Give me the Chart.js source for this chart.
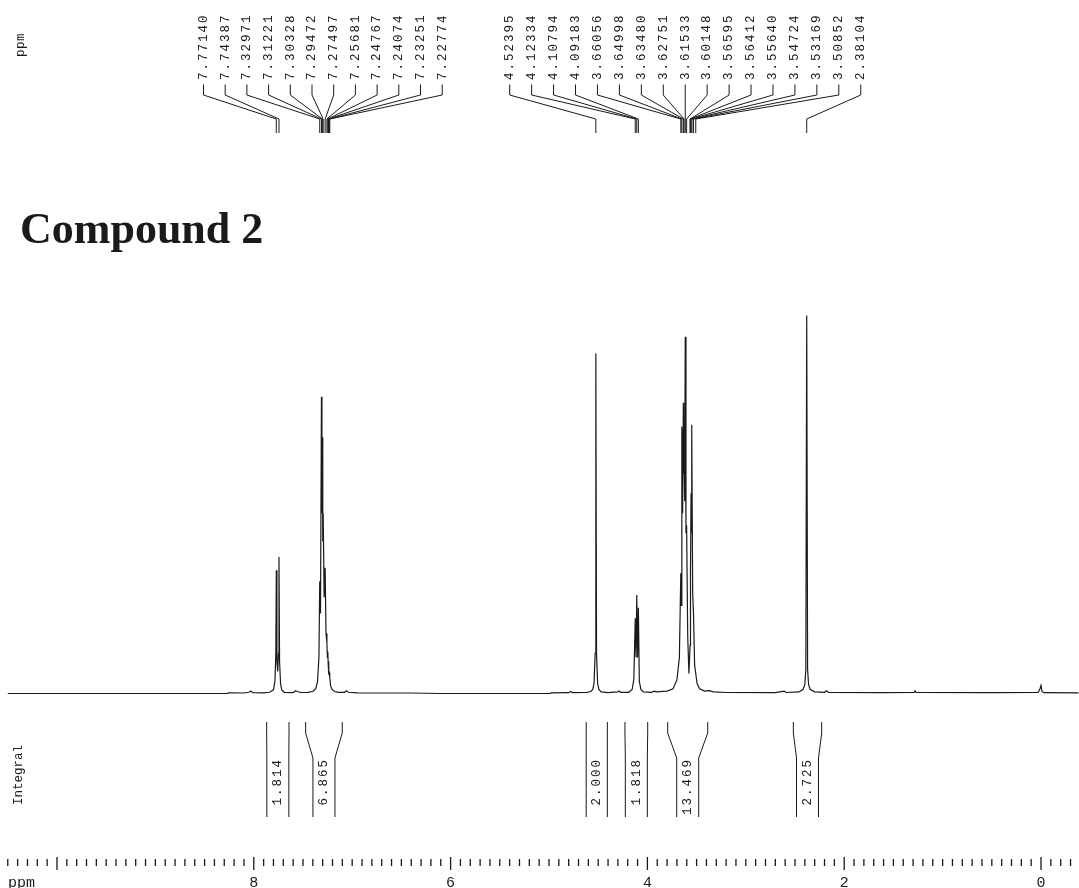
<!DOCTYPE html>
<html>
<head>
<meta charset="utf-8">
<title>Compound 2 - 1H NMR</title>
<script src="https://cdn.jsdelivr.net/npm/chart.js@4.4.1/dist/chart.umd.min.js"></script>
<style>
  html, body { margin: 0; padding: 0; background: #fff; }
  #wrap { width: 1079px; height: 888px; }
</style>
</head>
<body>
<div id="wrap"><canvas id="nmr" width="1079" height="888"></canvas></div>
<script>
// chemical shift axis (ppm), shown high -> low
const PPM_MIN = -0.386;
const PPM_MAX = 10.579;

// picked peaks (ppm)
const peakShifts = [
  7.77140, 7.74387, 7.32971, 7.31221, 7.30328, 7.29472, 7.27497, 7.25681,
  7.24767, 7.24074, 7.23251, 7.22774,
  4.52395, 4.12334, 4.10794, 4.09183, 3.66056, 3.64998, 3.63480, 3.62751,
  3.61533, 3.60148, 3.56595, 3.56412, 3.55640, 3.54724, 3.53169, 3.50852,
  2.38104
];

// integral regions (ppm) and their values
const integralStart = [7.869, 7.473, 4.622, 4.228, 3.794, 2.517];
const integralEnd   = [7.642, 7.101, 4.407, 3.997, 3.387, 2.229];
const integralValue = [1.814, 6.865, 2.000, 1.818, 13.469, 2.725];

// scale ticks
const minorTicks = [];
for (let i = 105; i >= -3; i--) minorTicks.push(i / 10);
const majorTicks = [10, 8, 6, 4, 2, 0];
const tickLabels = ['', '8', '6', '4', '2', '0'];

// spectrum trace: [ppm, intensity]
const spectrum = [
  [10.50, 0], [8.27, 0], [8.26, 0.15], [8.10, 0.12], [8.05, 0.3], [8.03, 0.6], [8.01, 0.2],
  [7.90, 0.15], [7.84, 0.3], [7.80, 0.9], [7.785, 3], [7.776, 10], [7.771, 30.8],
  [7.765, 8], [7.757, 5.5], [7.749, 10], [7.744, 34.1], [7.738, 8], [7.728, 2.5],
  [7.715, 0.8], [7.69, 0.3], [7.60, 0.2], [7.575, 0.7], [7.56, 0.5], [7.52, 0.25],
  [7.45, 0.3], [7.40, 0.5], [7.37, 1.2], [7.352, 3], [7.338, 9], [7.3297, 28],
  [7.322, 20], [7.3122, 74.1], [7.3075, 45], [7.3033, 64], [7.299, 38], [7.2947, 45],
  [7.285, 24], [7.2750, 31.4], [7.266, 15], [7.2568, 12.6], [7.252, 9], [7.2477, 10.5],
  [7.244, 7.5], [7.2407, 8], [7.236, 5], [7.2325, 5.2], [7.2277, 4], [7.22, 2],
  [7.205, 1], [7.18, 0.5], [7.14, 0.3], [7.08, 0.3], [7.055, 0.7], [7.04, 0.3],
  [6.95, 0.15], [6.40, 0.12], [6.11, 0], [4.99, 0], [4.98, 0.15], [4.80, 0.2],
  [4.78, 0.5], [4.76, 0.2], [4.62, 0.25], [4.575, 0.5], [4.555, 1], [4.542, 2.6],
  [4.531, 10], [4.5240, 84.9], [4.517, 10], [4.506, 2.6], [4.493, 1], [4.47, 0.4],
  [4.40, 0.2], [4.30, 0.4], [4.29, 0.6], [4.27, 0.3], [4.19, 0.3], [4.155, 1],
  [4.138, 3.5], [4.1233, 18.8], [4.116, 9], [4.1079, 24.6], [4.100, 9], [4.0918, 21.4],
  [4.082, 3], [4.066, 1], [4.04, 0.4], [3.96, 0.3], [3.93, 0.6], [3.91, 0.4],
  [3.80, 0.6], [3.74, 1.2], [3.70, 3.4], [3.675, 9], [3.6606, 30], [3.6550, 22],
  [3.6500, 66.6], [3.6420, 45], [3.6348, 72.6], [3.6310, 55], [3.6275, 60], [3.6210, 48],
  [3.6153, 89.1], [3.6080, 40], [3.6015, 42], [3.590, 14], [3.578, 5], [3.5660, 12],
  [3.5641, 14], [3.5600, 30], [3.5564, 50], [3.5520, 40], [3.5472, 67.1], [3.540, 25],
  [3.5317, 20], [3.520, 7], [3.5085, 5], [3.495, 2.5], [3.47, 1.2], [3.42, 0.6],
  [3.37, 0.7], [3.33, 0.4], [3.20, 0.25], [2.70, 0.2], [2.61, 0.6], [2.59, 0.25],
  [2.46, 0.4], [2.42, 1], [2.400, 2.2], [2.390, 6], [2.3810, 94.4], [2.372, 6],
  [2.362, 2.2], [2.345, 1], [2.30, 0.4], [2.20, 0.3], [2.18, 0.7], [2.16, 0.25],
  [1.60, 0.2], [1.29, 0.25], [1.28, 0.7], [1.27, 0.25], [0.50, 0.2], [0.03, 0.25],
  [0.01, 1.2], [0.00, 2], [-0.01, 0.5], [-0.03, 0.2], [-0.38, 0.15]
];

// label fan layout: two groups of evenly spaced labels
const labelGroups = [
  { first: 0, count: 12, left: 203.5, step: 21.7 },
  { first: 12, count: 17, left: 509.7, step: 21.94 }
];

const INK = '#1a1a1a';
const LABEL_FONT = '12.5px "Liberation Mono", "DejaVu Sans Mono", monospace';

function vText(ctx, str, x, y, align) {
  ctx.save();
  ctx.translate(x, y);
  ctx.rotate(-Math.PI / 2);
  ctx.textAlign = align;
  ctx.textBaseline = 'middle';
  ctx.fillText(str, 0, 0);
  ctx.restore();
}

const nmrDecor = {
  id: 'nmrDecor',
  afterDraw(chart) {
    const { ctx } = chart;
    const xs = chart.scales.x;
    const px = v => xs.getPixelForValue(v);

    ctx.save();
    ctx.fillStyle = INK;
    ctx.strokeStyle = INK;
    ctx.lineWidth = 1;
    ctx.font = LABEL_FONT;

    // axis names on the left
    ctx.letterSpacing = '0.5px';
    vText(ctx, 'ppm', 21, 45, 'center');
    ctx.letterSpacing = '0px';
    vText(ctx, 'Integral', 19, 775, 'center');

    // peak labels with leader lines
    ctx.letterSpacing = '2px';
    labelGroups.forEach(g => {
      for (let i = 0; i < g.count; i++) {
        const shift = peakShifts[g.first + i];
        const lx = g.left + i * g.step;
        const peakX = px(shift);
        vText(ctx, shift.toFixed(5), lx, 80, 'left');
        ctx.beginPath();
        ctx.moveTo(lx, 84.5);
        ctx.lineTo(lx, 95);
        ctx.lineTo(peakX, 119);
        ctx.lineTo(peakX, 133);
        ctx.stroke();
      }
    });

    // integrals
    const inner = 22;
    for (let i = 0; i < integralValue.length; i++) {
      const a = px(integralStart[i]);
      const b = px(integralEnd[i]);
      const mid = (a + b) / 2;
      const w = Math.min(b - a, inner);
      const ia = mid - w / 2, ib = mid + w / 2;
      ctx.beginPath();
      ctx.moveTo(a, 722); ctx.lineTo(a, 733); ctx.lineTo(ia, 758); ctx.lineTo(ia, 817);
      ctx.moveTo(b, 722); ctx.lineTo(b, 733); ctx.lineTo(ib, 758); ctx.lineTo(ib, 817);
      ctx.stroke();
      vText(ctx, integralValue[i].toFixed(3), mid, 758, 'right');
    }

    // ppm scale along the bottom
    ctx.lineWidth = 1.3;
    ctx.beginPath();
    minorTicks.forEach(v => {
      if (majorTicks.includes(Math.round(v * 10) / 10)) return;
      const x = px(v);
      ctx.moveTo(x, 859); ctx.lineTo(x, 866);
    });
    majorTicks.forEach(v => {
      const x = px(v);
      ctx.moveTo(x, 857); ctx.lineTo(x, 870);
    });
    ctx.stroke();

    ctx.letterSpacing = '0px';
    ctx.font = '15px "Liberation Mono", "DejaVu Sans Mono", monospace';
    ctx.textAlign = 'center';
    ctx.textBaseline = 'alphabetic';
    majorTicks.forEach((v, i) => {
      if (tickLabels[i]) ctx.fillText(tickLabels[i], px(v), 887);
    });
    ctx.textAlign = 'left';
    ctx.fillText('ppm', 8, 887);

    // sample name
    ctx.font = 'bold 44px "Liberation Serif", "Times New Roman", serif';
    ctx.fillText('Compound 2', 20, 243);
    ctx.restore();
  }
};

new Chart(document.getElementById('nmr'), {
  type: 'line',
  data: {
    datasets: [{
      data: spectrum.map(p => ({ x: p[0], y: p[1] })),
      borderColor: INK,
      borderWidth: 1.2,
      pointRadius: 0,
      tension: 0,
      fill: false
    }]
  },
  options: {
    responsive: false,
    animation: false,
    layout: { padding: { top: 293, bottom: 186, left: 0, right: 0 } },
    plugins: { legend: { display: false }, tooltip: { enabled: false } },
    scales: {
      x: { type: 'linear', reverse: true, min: PPM_MIN, max: PPM_MAX, display: false },
      y: { min: -2.125, max: 100, display: false }
    }
  },
  plugins: [nmrDecor]
});
</script>
</body>
</html>
